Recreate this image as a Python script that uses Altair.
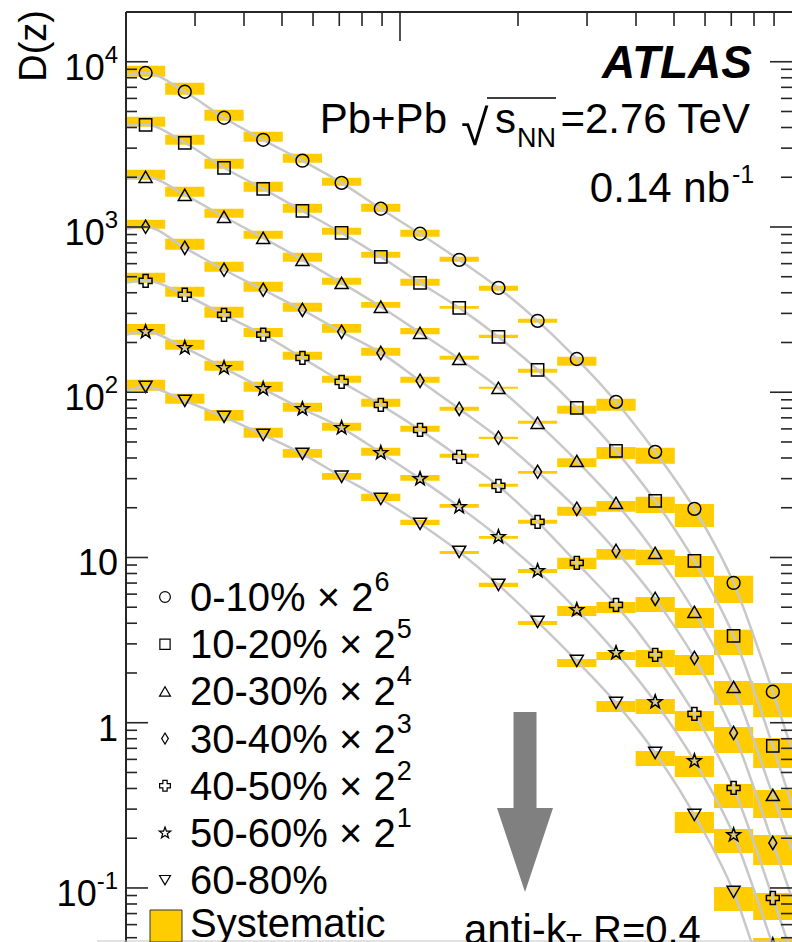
import altair as alt
import pandas as pd

FONT = "Liberation Sans"
YELLOW = "#FFCC00"
AX = "#262626"
LINE = "#c8c8c8"

# ---------------- data ----------------
z_edges = [0.02, 0.02518, 0.03170, 0.03991, 0.05024, 0.06325, 0.07962, 0.1002,
           0.1262, 0.1589, 0.2, 0.2518, 0.3170, 0.3991, 0.5024, 0.6325, 0.7962, 1.0]
z_centers = [0.02244, 0.02825, 0.03557, 0.04477, 0.05637, 0.07096, 0.08934, 0.1125,
             0.1416, 0.1783, 0.2244, 0.2825, 0.3557, 0.4477, 0.5637, 0.7096, 0.8934]

series_names = ["0-10%", "10-20%", "20-30%", "30-40%", "40-50%", "50-60%", "60-80%"]
series_exp = ["6", "5", "4", "3", "2", "1", ""]

d_0_10 = [8550, 6580, 4580, 3370, 2520, 1850, 1289, 910, 633, 428, 270.5, 159, 87.5, 43.6, 19.7, 7.02, 1.54]
lo_0_10 = [8110, 6310, 4390, 3280, 2450, 1775, 1236, 872, 616, 411, 263, 144.5, 77.2, 36.9, 15.3, 5.31, 1.08]
hi_0_10 = [9460, 7460, 5120, 3770, 2770, 1985, 1380, 962, 660, 441, 278, 164, 91.2, 46.1, 21.1, 7.74, 1.74]

d_10_20 = [4155, 3234, 2282, 1703, 1253, 922, 660, 459, 324, 216, 136.7, 80.5, 44.2, 22.0, 9.54, 3.35, 0.724]
lo_10_20 = [4041, 3145, 2251, 1634, 1219, 897, 651, 441, 320, 213, 131, 74.0, 39.5, 18.6, 7.63, 2.57, 0.533]
hi_10_20 = [4647, 3615, 2587, 1877, 1382, 989, 708, 486, 333, 223, 138.5, 82.7, 46.7, 23.3, 10.22, 3.65, 0.809]

d_20_30 = [2013, 1566, 1153, 860, 633, 459, 329, 229, 159, 106.3, 65.3, 38.4, 21.4, 10.66, 4.69, 1.647, 0.3655]
lo_20_30 = [1930, 1524, 1137, 848, 616, 447, 324, 224, 157, 104.9, 64.4, 35.3, 18.9, 9.02, 3.748, 1.281, 0.2653]
hi_20_30 = [2219, 1751, 1289, 948, 698, 493, 352, 245, 166, 107.8, 67.1, 39.9, 22.0, 11.12, 4.953, 1.791, 0.392]

d_30_40 = [1003, 748, 551, 417, 315, 232, 173, 117.2, 79.3, 53.0, 33.0, 19.7, 10.96, 5.616, 2.467, 0.8674, 0.1873]
lo_30_40 = [975, 728, 536, 405, 307, 229, 166, 114.0, 77.2, 52.2, 32.1, 17.86, 9.672, 4.685, 1.947, 0.6565, 0.1378]
hi_30_40 = [1105, 848, 616, 466, 348, 259, 186, 123.9, 81.6, 53.7, 33.4, 20.25, 11.27, 5.775, 2.573, 0.943, 0.2093]

d_40_50 = [472, 389, 294, 223, 161.5, 115.6, 83.9, 59.2, 40.6, 27.1, 16.43, 9.275, 5.166, 2.573, 1.131, 0.403, 0.087]
lo_40_50 = [459, 378, 282, 216, 157, 114.0, 81.6, 57.6, 40.1, 26.8, 15.98, 8.531, 4.619, 2.176, 0.8919, 0.3049, 0.064]
hi_40_50 = [528, 435, 329, 245, 175.6, 125.7, 91.2, 62.6, 42.4, 27.9, 16.89, 9.945, 5.386, 2.759, 1.179, 0.4262, 0.0933]

d_50_60 = [232, 185.7, 140.5, 104.9, 79.3, 60.9, 43.0, 29.9, 20.25, 13.33, 8.297, 4.817, 2.646, 1.336, 0.587, 0.2093, 0.0452]
lo_50_60 = [222.6, 180.6, 134.7, 100.6, 76.1, 58.4, 41.2, 29.1, 19.97, 12.96, 8.069, 4.431, 2.399, 1.131, 0.4697, 0.1628, 0.0342]
hi_50_60 = [259, 207.6, 154.9, 115.6, 86.3, 65.3, 46.1, 31.6, 21.1, 13.51, 8.531, 5.093, 2.683, 1.393, 0.6295, 0.2276, 0.0498]

d_60_80 = [107.8, 88.7, 71.0, 55.2, 42.4, 30.8, 22.6, 15.98, 10.81, 6.826, 4.076, 2.366, 1.318, 0.6565, 0.2766, 0.0946, 0.0190]
lo_60_80 = [102.0, 85.1, 67.1, 53.0, 40.1, 29.5, 22.0, 15.75, 10.51, 6.637, 3.908, 2.176, 1.163, 0.5477, 0.2152, 0.0726, 0.0138]
hi_60_80 = [118.9, 97.8, 78.2, 60.9, 45.4, 32.5, 24.3, 16.89, 10.96, 7.02, 4.133, 2.433, 1.355, 0.6753, 0.2884, 0.1014, 0.0209]

# grey curves: value at z = 0.02 and z = 1
line_start = [8343, 4098, 1958, 975, 459, 222.6, 102.0]
line_end = [0.6845, 0.3179, 0.1698, 0.087, 0.0393, 0.021, 0.0091]

y_label_values = [1e4, 1e3, 1e2, 10, 1, 0.1]
y_label_base = ["10", "10", "10", "10", "1", "10"]
y_label_exp = ["4", "3", "2", "", "", "-1"]

y_minor_ticks = [v * 10.0 ** k for k in range(-2, 5) for v in range(2, 10)]
y_major_ticks = [0.1, 1, 10, 100, 1000, 10000]
x_minor_ticks = [0.03, 0.04, 0.05, 0.06, 0.07, 0.08, 0.09, 0.2, 0.3, 0.4, 0.5, 0.6, 0.7, 0.8, 0.9]
x_major_ticks = [0.1]

all_d = [d_0_10, d_10_20, d_20_30, d_30_40, d_40_50, d_50_60, d_60_80]
all_lo = [lo_0_10, lo_10_20, lo_20_30, lo_30_40, lo_40_50, lo_50_60, lo_60_80]
all_hi = [hi_0_10, hi_10_20, hi_20_30, hi_30_40, hi_40_50, hi_50_60, hi_60_80]

# ---------------- tables ----------------
rows, lrows = [], []
for s, name in enumerate(series_names):
    lrows.append({"series": name, "z": z_edges[0], "d": line_start[s]})
    for k in range(len(z_centers)):
        rows.append({"series": name, "z": z_centers[k], "zlo": z_edges[k], "zhi": z_edges[k + 1],
                     "d": all_d[s][k], "lo": all_lo[s][k], "hi": all_hi[s][k]})
        lrows.append({"series": name, "z": z_centers[k], "d": all_d[s][k]})
    lrows.append({"series": name, "z": z_edges[-1], "d": line_end[s]})
pts = pd.DataFrame(rows)
lines = pd.DataFrame(lrows)
one = pd.DataFrame({"a": [0]})

W, H = 666, 930
ymin = 0.0471
xs = alt.Scale(type="log", domain=[0.02, 1.0], nice=False)
ys = alt.Scale(type="log", domain=[ymin, 20000], nice=False)

STAR = ("M0,-1L0.2351,-0.3236L0.9511,-0.309L0.3804,0.1236L0.5878,0.809L0,0.4"
        "L-0.5878,0.809L-0.3804,0.1236L-0.9511,-0.309L-0.2351,-0.3236Z")
DIAM = "M0,-1L0.6,0L0,1L-0.6,0Z"
shapes = ["circle", "square", "triangle-up", DIAM, "cross", STAR, "triangle-down"]
sizes = [165, 150, 170, 175, 165, 205, 170]

CW = {c: 0.556 for c in "0123456789"}
CW.update({"-": 0.333, "%": 0.889, " ": 0.278, "\u00d7": 0.584, ".": 0.278})


def tw(s, size):
    return sum(CW.get(c, 0.556) for c in s) * size


def txt(s, x, y, size, align="left", weight="normal", style="normal", font=FONT, color="black"):
    return alt.Chart(one).mark_text(text=s, align=align, baseline="alphabetic", fontSize=size,
                                    font=font, fontWeight=weight, fontStyle=style,
                                    color=color).encode(x=alt.value(x), y=alt.value(y))


layers = []

# systematic boxes
layers.append(alt.Chart(pts).mark_rect(color=YELLOW, clip=True).encode(
    x=alt.X("zlo:Q", scale=xs, axis=None), x2="zhi:Q",
    y=alt.Y("lo:Q", scale=ys, axis=None), y2="hi:Q"))

# grey curves
layers.append(alt.Chart(lines).mark_line(color=LINE, strokeWidth=2.5, interpolate="monotone",
                                         clip=True).encode(
    x=alt.X("z:Q", scale=xs, axis=None), y=alt.Y("d:Q", scale=ys, axis=None),
    detail="series:N", order="z:Q"))

# markers
for i, name in enumerate(series_names):
    layers.append(alt.Chart(pts[pts.series == name]).mark_point(
        shape=shapes[i], size=sizes[i], filled=False, color="black", strokeWidth=1.5,
        opacity=1, clip=True).encode(
        x=alt.X("z:Q", scale=xs, axis=None), y=alt.Y("d:Q", scale=ys, axis=None)))

# frame and ticks (ticks point inwards)
layers.append(alt.Chart(one).mark_rule(color=AX, strokeWidth=2).encode(
    x=alt.value(0), y=alt.value(0), y2=alt.value(H)))
layers.append(alt.Chart(one).mark_rule(color=AX, strokeWidth=2).encode(
    x=alt.value(0), x2=alt.value(W), y=alt.value(0)))
layers.append(alt.Chart(one).mark_rule(color="#c4c4c4", strokeWidth=1).encode(
    x=alt.value(-29), x2=alt.value(W), y=alt.value(H - 1)))

ymaj = pd.DataFrame({"v": y_major_ticks})
ymin_t = pd.DataFrame({"v": [v for v in y_minor_ticks if ymin < v < 19999]})
for df, ln in [(ymaj, 22), (ymin_t, 11)]:
    layers.append(alt.Chart(df).mark_rule(color=AX, strokeWidth=1.6).encode(
        y=alt.Y("v:Q", scale=ys, axis=None), x=alt.value(0), x2=alt.value(ln)))
    layers.append(alt.Chart(df).mark_rule(color=AX, strokeWidth=1.6).encode(
        y=alt.Y("v:Q", scale=ys, axis=None), x=alt.value(W - ln), x2=alt.value(W)))
for vals, ln in [(x_major_ticks, 29), (x_minor_ticks, 14)]:
    layers.append(alt.Chart(pd.DataFrame({"v": vals})).mark_rule(color=AX, strokeWidth=1.6).encode(
        x=alt.X("v:Q", scale=xs, axis=None), y=alt.value(0), y2=alt.value(ln)))

# y tick labels (base + superscript exponent)
for v, b, e in zip(y_label_values, y_label_base, y_label_exp):
    dfl = pd.DataFrame({"v": [v], "b": [b], "e": [e]})
    bx = -8 - tw(e, 24) if e else -8
    layers.append(alt.Chart(dfl).mark_text(align="right", baseline="alphabetic", fontSize=36,
                                           font=FONT, dy=18, color="black").encode(
        x=alt.value(bx), y=alt.Y("v:Q", scale=ys, axis=None), text="b:N"))
    if e:
        layers.append(alt.Chart(dfl).mark_text(align="right", baseline="alphabetic", fontSize=24,
                                               font=FONT, dy=1, color="black").encode(
            x=alt.value(-8), y=alt.Y("v:Q", scale=ys, axis=None), text="e:N"))

# y title
layers.append(alt.Chart(one).mark_text(text="D(z)", angle=270, align="right", baseline="alphabetic",
                                       fontSize=38, font=FONT, color="black").encode(
    x=alt.value(-80), y=alt.value(-2)))

# legend
for i, name in enumerate(series_names):
    cy = 585 + 47.2 * i
    layers.append(alt.Chart(one).mark_point(shape=shapes[i], size=sizes[i] * 0.7, filled=False,
                                            color="black", strokeWidth=1.2, opacity=1).encode(
        x=alt.value(39), y=alt.value(cy)))
    base = f"{name} \u00d7 2" if series_exp[i] else name
    layers.append(txt(base, 64, cy + 14, 40))
    if series_exp[i]:
        layers.append(txt(series_exp[i], 64 + tw(base, 40) + 1, cy - 6, 27))
layers.append(alt.Chart(one).mark_rect(color=YELLOW, stroke="#333333", strokeWidth=1).encode(
    x=alt.value(24), x2=alt.value(56), y=alt.value(898), y2=alt.value(930)))
layers.append(txt("Systematic", 64, 925, 40))

# labels top right
layers.append(txt("ATLAS", 626, 66, 46, align="right", weight="bold", style="italic"))
layers.append(txt("Pb+Pb", 321, 121, 42, align="right"))
layers.append(txt("\u221a", 335, 133, 50, align="left"))
layers.append(alt.Chart(one).mark_rule(color="black", strokeWidth=1.5).encode(
    x=alt.value(361), x2=alt.value(430), y=alt.value(86)))
layers.append(txt("s", 390, 121, 42, align="right"))
layers.append(txt("NN", 430, 135, 27, align="right"))
layers.append(txt("=2.76 TeV", 624, 121, 42, align="right"))
layers.append(txt("0.14 nb", 604, 190, 42, align="right"))
layers.append(txt("-1", 606, 171, 25, align="left"))

# anti-kT label and arrow
layers.append(txt("anti-k", 338, 932, 42, align="left"))
layers.append(txt("T", 440, 940, 26, align="left"))
layers.append(txt("R=0.4", 467, 932, 40, align="left"))
ARROW = "M-1.15,-9L1.15,-9L1.15,0.6L2.8,0.6L0,9L-2.8,0.6L-1.15,0.6Z"
layers.append(alt.Chart(one).mark_point(shape=ARROW, size=400, filled=True, color="#808080",
                                        opacity=1, strokeWidth=0).encode(
    x=alt.value(399), y=alt.value(790)))

chart = alt.layer(*layers).properties(
    width=W, height=H, autosize="none",
    padding={"left": 126, "top": 12, "right": 0, "bottom": 0},
).configure_view(stroke=None).configure(font=FONT, background="white")

chart.save("out.html", embed_options={"renderer": "svg", "actions": False})
